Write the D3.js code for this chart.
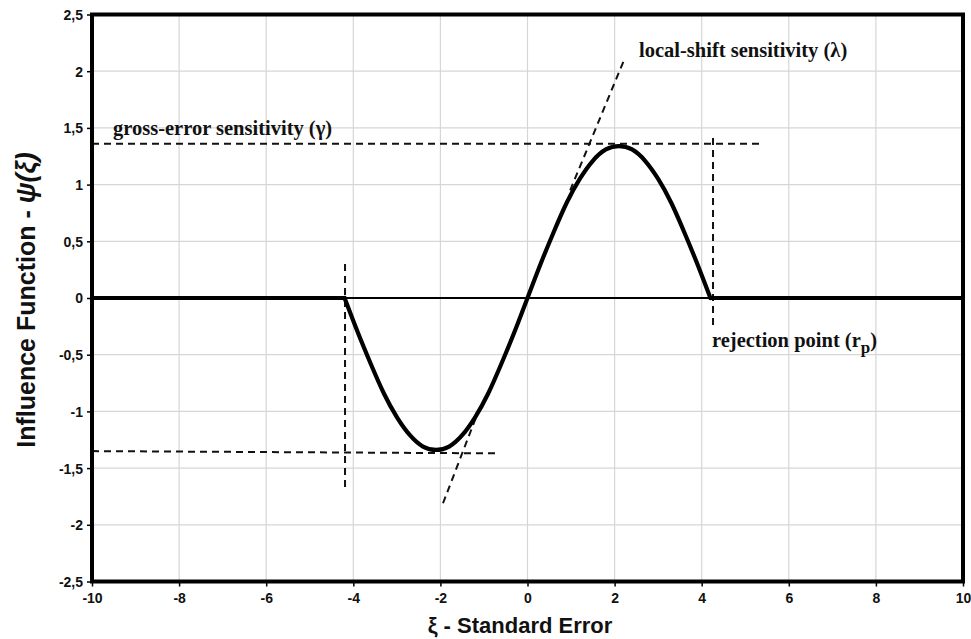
<!DOCTYPE html>
<html>
<head>
<meta charset="utf-8">
<script src="https://cdn.jsdelivr.net/npm/d3@7"></script>
<style>
  html, body { margin: 0; padding: 0; background: #fff; }
  svg { display: block; }
</style>
</head>
<body>
<svg id="chart" width="971" height="639"></svg>
<script>
// Influence function of a redescending (sine-wave) estimator
const xi = [-10, -4.2, -3.9, -3.6, -3.3, -3.0, -2.7, -2.4, -2.1, -1.8, -1.5, -1.2, -0.9, -0.6, -0.3,
            0, 0.3, 0.6, 0.9, 1.2, 1.5, 1.8, 2.1, 2.4, 2.7, 3.0, 3.3, 3.6, 3.9, 4.2, 10];
const psi = [0, 0, -0.30, -0.58, -0.84, -1.05, -1.21, -1.31, -1.34, -1.31, -1.21, -1.05, -0.84, -0.58, -0.30,
             0, 0.30, 0.58, 0.84, 1.05, 1.21, 1.31, 1.34, 1.31, 1.21, 1.05, 0.84, 0.58, 0.30, 0, 0];

// Axis ticks
const xTicks = [-10, -8, -6, -4, -2, 0, 2, 4, 6, 8, 10];
const yTicks = [-2.5, -2, -1.5, -1, -0.5, 0, 0.5, 1, 1.5, 2, 2.5];

// Dashed guide lines: [x1, y1, x2, y2] in data units
const guideLines = [
  [-10, 1.36, 5.4, 1.36],      // gross-error sensitivity (upper)
  [-10, -1.35, -0.72, -1.37],  // gross-error sensitivity (lower)
  [4.26, 1.41, 4.26, -0.24],   // rejection point (right)
  [-4.19, 0.30, -4.19, -1.68], // rejection point (left)
  [0.98, 0.95, 2.24, 2.12],    // local-shift tangent (upper)
  [-1.94, -1.81, -1.16, -1.03] // local-shift tangent (lower)
];

const svg = d3.select("#chart");
const margin = { left: 92, right: 8, top: 14.5, bottom: 57.5 };
const W = 971, H = 639;

const x = d3.scaleLinear().domain([-10, 10]).range([margin.left, W - margin.right]);
const y = d3.scaleLinear().domain([-2.5, 2.5]).range([H - margin.bottom, margin.top]);

const fmt = v => d3.format("")(v).replace(".", ",").replace("−", "-");

// grid
const grid = svg.append("g").attr("stroke", "#d6d6d6").attr("stroke-width", 1.2);
grid.selectAll("line.gx").data(xTicks).join("line")
  .attr("x1", d => x(d)).attr("x2", d => x(d))
  .attr("y1", y(2.5)).attr("y2", y(-2.5));
grid.selectAll("line.gy").data(yTicks).join("line")
  .attr("y1", d => y(d)).attr("y2", d => y(d))
  .attr("x1", x(-10)).attr("x2", x(10));

// axes
const xAxis = d3.axisBottom(x).tickValues(xTicks).tickSize(5).tickFormat(fmt);
const yAxis = d3.axisLeft(y).tickValues(yTicks).tickSize(5).tickFormat(fmt);

const gx = svg.append("g").attr("transform", `translate(0,${y(-2.5)})`).call(xAxis);
const gy = svg.append("g").attr("transform", `translate(${x(-10)},0)`).call(yAxis);
[gx, gy].forEach(g => {
  g.select(".domain").remove();
  g.selectAll(".tick line").attr("stroke", "#000").attr("stroke-width", 1.5);
  g.selectAll(".tick text")
    .attr("font-family", "Liberation Sans, Arial, sans-serif")
    .attr("font-weight", "bold").attr("font-size", 14).attr("fill", "#111");
});
gx.selectAll(".tick text").attr("dy", "0.95em");
gy.selectAll(".tick text").attr("dx", "-1px").attr("dy", "0.35em");

// zero reference line
svg.append("line")
  .attr("x1", x(-10)).attr("x2", x(10))
  .attr("y1", y(0)).attr("y2", y(0))
  .attr("stroke", "#000").attr("stroke-width", 1.8);

// dashed guides
svg.append("g").selectAll("line").data(guideLines).join("line")
  .attr("x1", d => x(d[0])).attr("y1", d => y(d[1]))
  .attr("x2", d => x(d[2])).attr("y2", d => y(d[3]))
  .attr("stroke", "#111").attr("stroke-width", 2)
  .attr("stroke-dasharray", "7,5");

// influence curve: flat tails drawn straight, redescending part smooth
const pts = xi.map((v, i) => [v, psi[i]]);
const lo = xi.indexOf(-4.2), hi = xi.indexOf(4.2);
const straight = d3.line().x(d => x(d[0])).y(d => y(d[1]));
const smooth = d3.line().x(d => x(d[0])).y(d => y(d[1])).curve(d3.curveNatural);
const curveG = svg.append("g").attr("fill", "none").attr("stroke", "#000")
  .attr("stroke-width", 4.2).attr("stroke-linejoin", "round").attr("stroke-linecap", "round");
curveG.append("path").attr("d", straight(pts.slice(0, lo + 1)));
curveG.append("path").attr("d", smooth(pts.slice(lo, hi + 1)));
curveG.append("path").attr("d", straight(pts.slice(hi)));

// plot frame
svg.append("rect")
  .attr("x", x(-10)).attr("y", y(2.5))
  .attr("width", x(10) - x(-10)).attr("height", y(-2.5) - y(2.5))
  .attr("fill", "none").attr("stroke", "#000").attr("stroke-width", 4);

// annotations
const ann = svg.append("g")
  .attr("font-family", "Liberation Serif, Times New Roman, serif")
  .attr("font-weight", "bold").attr("font-size", 20.5).attr("fill", "#111");
ann.append("text").attr("x", 113).attr("y", 135).text("gross-error sensitivity (γ)");
ann.append("text").attr("x", 639).attr("y", 57).text("local-shift sensitivity (λ)");
const rp = ann.append("text").attr("x", 712).attr("y", 347);
rp.append("tspan").text("rejection point (r");
rp.append("tspan").attr("dy", 6).attr("font-size", 17).text("p");
rp.append("tspan").attr("dy", -6).text(")");

// axis titles
const yTitle = svg.append("text")
  .attr("transform", `translate(35,300) rotate(-90)`)
  .attr("text-anchor", "middle")
  .attr("font-family", "Liberation Sans, Arial, sans-serif")
  .attr("font-weight", "bold").attr("font-size", 25).attr("fill", "#111");
yTitle.append("tspan").text("Influence Function - ");
yTitle.append("tspan").attr("font-style", "italic").attr("font-size", 27).text("ψ(ξ)");

svg.append("text")
  .attr("x", 520).attr("y", 633)
  .attr("text-anchor", "middle")
  .attr("font-family", "Liberation Sans, Arial, sans-serif")
  .attr("font-weight", "bold").attr("font-size", 22).attr("fill", "#111")
  .text("ξ - Standard Error");
</script>
</body>
</html>
